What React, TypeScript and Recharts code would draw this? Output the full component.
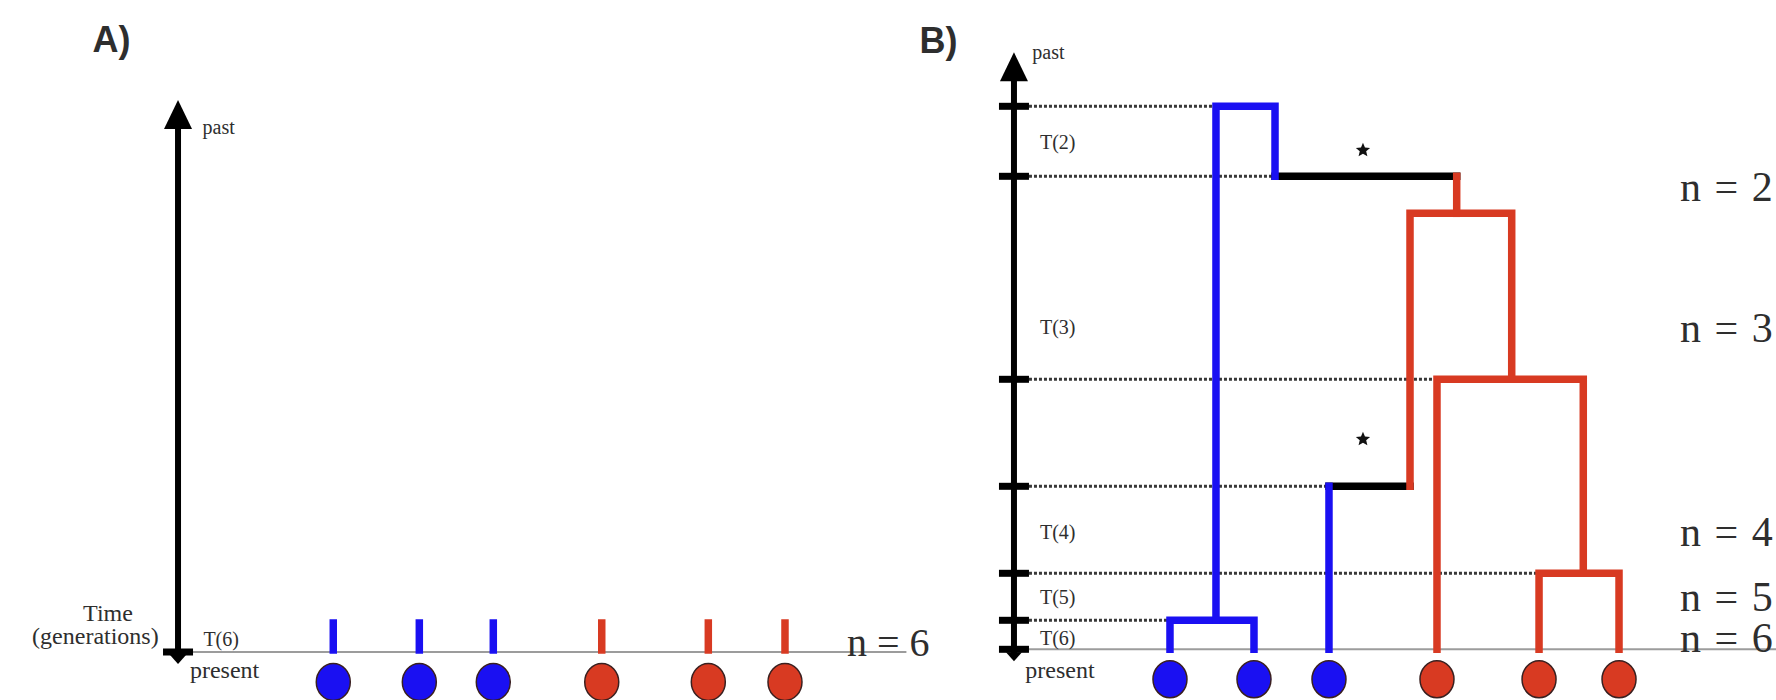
import React from "react";
import { ComposedChart, Line, Scatter, XAxis, YAxis } from "recharts";

// x = lineage position (0-100 across a panel), y = time before present (generations, arbitrary units)
const lineageColours = ["blue", "blue", "blue", "red", "red", "red"];

// panel A: six sampled lineages at the present
const leavesA = [37.03, 46.59, 54.81, 66.86, 78.7, 87.22];
const t6 = 0.29;

// panel B: coalescent tree
const leavesB = [30.82, 40.41, 48.97, 61.3, 72.95, 82.08];
const levelTimes = [5.43, 4.73, 2.7, 1.63, 0.76, 0.29, 0];
const levelDotEnds = [36.07, 42.81, 61.3, 48.97, 72.95, 30.82];
const intervalNames = ["T(2)", "T(3)", "T(4)", "T(5)", "T(6)"];
const intervalLabelTimes = [5.07, 3.22, 1.17, 0.52, 0.11];
const nLabels = ["n = 2", "n = 3", "n = 4", "n = 5", "n = 6"];
const nLabelTimes = [4.62, 3.21, 1.17, 0.52, 0.11];
const starPoints = [
  [52.85, 4.99],
  [52.85, 2.1],
];

const blueBranches = [
  [[30.82, 0], [30.82, 0.29], [40.41, 0.29], [40.41, 0]],
  [[36.07, 0.29], [36.07, 5.43], [42.81, 5.43], [42.81, 4.73]],
  [[48.97, 0], [48.97, 1.63]],
];
const blackBranches = [
  [[42.81, 4.73], [63.55, 4.73]],
  [[48.97, 1.63], [58.22, 1.63]],
];
const redBranches = [
  [[63.55, 4.73], [63.55, 4.36]],
  [[58.22, 1.63], [58.22, 4.36], [69.83, 4.36], [69.83, 2.7]],
  [[61.3, 0], [61.3, 2.7], [78.0, 2.7], [78.0, 0.76]],
  [[72.95, 0], [72.95, 0.76], [82.08, 0.76], [82.08, 0]],
];

const BLUE = "#1a10f2";
const RED = "#d83a22";
const INK = "#2e2e2e";
const serif = "'Liberation Serif', 'Times New Roman', serif";
const sans = "'Liberation Sans', Arial, sans-serif";
const leafY = -0.3;

const pts = (b: number[][]) => b.map(([x, y]) => ({ x, y }));

const textShape =
  (size: number, anchor: string = "start", weight = 400, family = serif, spacing = 0) =>
  (p: any) =>
    (
      <text
        x={p.cx}
        y={p.cy}
        fontSize={size}
        fontFamily={family}
        fontWeight={weight}
        textAnchor={anchor}
        letterSpacing={spacing}
        dominantBaseline="central"
        fill={INK}
      >
        {p.payload.label}
      </text>
    );

const seg = (key: string, b: number[][], stroke: string, width: number, dash?: string) => (
  <Line
    key={key}
    data={pts(b)}
    dataKey="y"
    stroke={stroke}
    strokeWidth={width}
    strokeDasharray={dash}
    strokeLinecap={dash ? "butt" : "square"}
    strokeLinejoin="miter"
    dot={false}
    activeDot={false}
    isAnimationActive={false}
  />
);

const upArrow = (p: any) => (
  <polygon points={`${p.cx},${p.cy} ${p.cx - 14},${p.cy + 29} ${p.cx + 14},${p.cy + 29}`} fill="#000" />
);
const downArrow = (p: any) => (
  <polygon points={`${p.cx - 8},${p.cy + 3} ${p.cx + 8},${p.cy + 3} ${p.cx},${p.cy + 12}`} fill="#000" />
);
const tickBar = (p: any) => <rect x={p.cx - 15} y={p.cy - 3.5} width={30} height={7} fill="#000" />;
const leafDot = (p: any) => (
  <ellipse
    cx={p.cx}
    cy={p.cy}
    rx={17}
    ry={18.5}
    fill={p.payload.c === "blue" ? BLUE : RED}
    stroke="#3a2020"
    strokeWidth={1.5}
  />
);
const star = (p: any) => {
  const r = 7.5;
  const s = Array.from({ length: 10 }, (_, i) => {
    const a = -Math.PI / 2 + (i * Math.PI) / 5;
    const rr = i % 2 ? r * 0.45 : r;
    return `${p.cx + rr * Math.cos(a)},${p.cy + rr * Math.sin(a)}`;
  }).join(" ");
  return <polygon points={s} fill="#111" />;
};

function PanelA() {
  const ax = 19.78;
  return (
    <ComposedChart width={1000} height={700} margin={{ top: 0, right: 0, bottom: 0, left: 0 }}>
      <XAxis type="number" dataKey="x" domain={[0, 111.11]} allowDataOverflow hide />
      <YAxis type="number" dataKey="y" domain={[-0.48, 6.52]} allowDataOverflow hide />
      {seg("base", [[ax, 0], [100.6, 0]], "#9c9c9c", 2)}
      {seg("axis", [[ax, -0.05], [ax, 5.3]], "#000", 6)}
      {leavesA.map((x, i) =>
        seg("t" + i, [[x, 0.02], [x, t6]], lineageColours[i] === "blue" ? BLUE : RED, 7.5)
      )}
      <Scatter data={[{ x: ax, y: 5.52 }]} shape={upArrow} isAnimationActive={false} />
      <Scatter data={[{ x: ax, y: 0 }]} shape={tickBar} isAnimationActive={false} />
      <Scatter data={[{ x: ax, y: 0 }]} shape={downArrow} isAnimationActive={false} />
      <Scatter
        data={leavesA.map((x, i) => ({ x, y: leafY, c: lineageColours[i] }))}
        shape={leafDot}
        isAnimationActive={false}
      />
      <Scatter data={[{ x: 12.4, y: 6.13, label: "A)" }]} shape={textShape(36, "middle", 700, sans)} isAnimationActive={false} />
      <Scatter data={[{ x: 22.5, y: 5.25, label: "past" }]} shape={textShape(20)} isAnimationActive={false} />
      <Scatter data={[{ x: 12.0, y: 0.39, label: "Time" }]} shape={textShape(24, "middle")} isAnimationActive={false} />
      <Scatter data={[{ x: 10.6, y: 0.16, label: "(generations)" }]} shape={textShape(24, "middle")} isAnimationActive={false} />
      <Scatter data={[{ x: 22.6, y: 0.13, label: "T(6)" }]} shape={textShape(20)} isAnimationActive={false} />
      <Scatter data={[{ x: 21.1, y: -0.18, label: "present" }]} shape={textShape(24)} isAnimationActive={false} />
      <Scatter data={[{ x: 94.1, y: 0.1, label: "n = 6" }]} shape={textShape(40)} isAnimationActive={false} />
    </ComposedChart>
  );
}

function PanelB() {
  const ax = 13.01;
  return (
    <ComposedChart width={876} height={700} margin={{ top: 0, right: 0, bottom: 0, left: 0 }}>
      <XAxis type="number" dataKey="x" domain={[0, 100]} allowDataOverflow hide />
      <YAxis type="number" dataKey="y" domain={[-0.507, 6.493]} allowDataOverflow hide />
      {seg("base", [[ax, 0], [100, 0]], "#9c9c9c", 2)}
      {levelDotEnds.map((end, i) => seg("d" + i, [[ax, levelTimes[i]], [end, levelTimes[i]]], "#383838", 3, "3 2"))}
      {seg("axis", [[ax, -0.05], [ax, 5.75]], "#000", 6)}
      {blackBranches.map((b, i) => seg("k" + i, b, "#000", 7.5))}
      {redBranches.map((b, i) => seg("r" + i, b, RED, 7.5))}
      {blueBranches.map((b, i) => seg("b" + i, b, BLUE, 7.5))}
      <Scatter data={[{ x: ax, y: 5.97 }]} shape={upArrow} isAnimationActive={false} />
      <Scatter data={levelTimes.map((y) => ({ x: ax, y }))} shape={tickBar} isAnimationActive={false} />
      <Scatter data={[{ x: ax, y: 0 }]} shape={downArrow} isAnimationActive={false} />
      <Scatter data={starPoints.map(([x, y]) => ({ x, y }))} shape={star} isAnimationActive={false} />
      <Scatter
        data={leavesB.map((x, i) => ({ x, y: leafY, c: lineageColours[i] }))}
        shape={leafDot}
        isAnimationActive={false}
      />
      <Scatter
        data={intervalNames.map((label, i) => ({ x: 15.98, y: intervalLabelTimes[i], label }))}
        shape={textShape(20)}
        isAnimationActive={false}
      />
      <Scatter
        data={nLabels.map((label, i) => ({ x: 89.04, y: nLabelTimes[i], label }))}
        shape={textShape(42, "start", 400, serif, 1.5)}
        isAnimationActive={false}
      />
      <Scatter data={[{ x: 4.4, y: 6.09, label: "B)" }]} shape={textShape(36, "middle", 700, sans)} isAnimationActive={false} />
      <Scatter data={[{ x: 15.1, y: 5.97, label: "past" }]} shape={textShape(20)} isAnimationActive={false} />
      <Scatter data={[{ x: 14.3, y: -0.21, label: "present" }]} shape={textShape(24)} isAnimationActive={false} />
    </ComposedChart>
  );
}

export default function App() {
  return (
    <div style={{ position: "relative", width: 1776, height: 700, background: "#fff", overflow: "hidden" }}>
      <style>{"body{margin:0}"}</style>
      <div style={{ position: "absolute", left: 0, top: 0 }}>
        <PanelA />
      </div>
      <div style={{ position: "absolute", left: 900, top: 0 }}>
        <PanelB />
      </div>
    </div>
  );
}
